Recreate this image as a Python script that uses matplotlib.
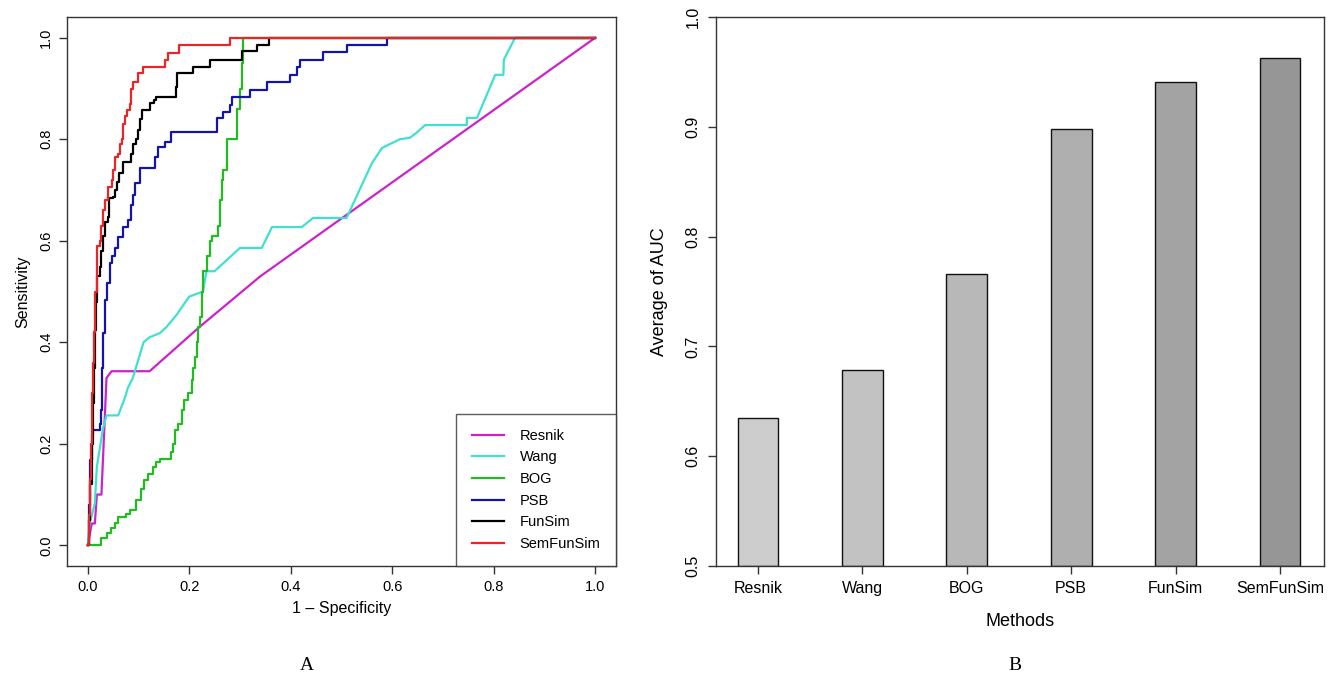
import numpy as np
import matplotlib
matplotlib.use("Agg")
import matplotlib.pyplot as plt

plt.rcParams['font.family'] = ['Liberation Sans', 'DejaVu Sans']

# ---- ROC curves ----
resnik_fpr = [0, 0.008, 0.014, 0.018, 0.027, 0.037, 0.047, 0.122, 0.22, 0.34, 1.0]
resnik_tpr = [0, 0.043, 0.043, 0.10, 0.10, 0.33, 0.343, 0.343, 0.43, 0.53, 1.0]

wang_fpr = [0, 0.004, 0.014, 0.018, 0.03, 0.037, 0.06, 0.073, 0.079, 0.089, 0.11, 0.122,
            0.142, 0.155, 0.175, 0.195, 0.2, 0.227, 0.234, 0.25, 0.30, 0.343, 0.363, 0.422,
            0.444, 0.51, 0.517, 0.56, 0.58, 0.615, 0.635, 0.648, 0.665, 0.747, 0.747, 0.767,
            0.803, 0.819, 0.82, 0.842, 1.0]
wang_tpr = [0, 0.043, 0.083, 0.155, 0.23, 0.256, 0.256, 0.29, 0.31, 0.33, 0.40, 0.41,
            0.418, 0.43, 0.454, 0.483, 0.49, 0.50, 0.54, 0.54, 0.586, 0.586, 0.627, 0.627,
            0.645, 0.645, 0.66, 0.753, 0.783, 0.80, 0.803, 0.813, 0.828, 0.828, 0.842, 0.842,
            0.927, 0.927, 0.957, 1.0, 1.0]

bog_fpr = [0, 0.027, 0.037, 0.045, 0.053, 0.06, 0.075, 0.083, 0.096, 0.104, 0.11, 0.118,
           0.128, 0.135, 0.142, 0.165, 0.168, 0.172, 0.178, 0.185, 0.19, 0.198, 0.205, 0.208,
           0.211, 0.215, 0.217, 0.222, 0.225, 0.228, 0.235, 0.24, 0.245, 0.257, 0.26, 0.264,
           0.267, 0.274, 0.293, 0.295, 0.30, 0.303, 0.305, 1.0]
bog_tpr = [0, 0.014, 0.024, 0.034, 0.043, 0.055, 0.062, 0.069, 0.089, 0.11, 0.128, 0.14,
           0.154, 0.165, 0.17, 0.183, 0.20, 0.227, 0.24, 0.266, 0.286, 0.30, 0.325, 0.35,
           0.371, 0.40, 0.43, 0.45, 0.50, 0.54, 0.57, 0.60, 0.61, 0.63, 0.68, 0.72,
           0.74, 0.80, 0.80, 0.86, 0.90, 0.95, 1.0, 1.0]

psb_fpr = [0, 0.002, 0.004, 0.008, 0.01, 0.024, 0.027, 0.029, 0.03, 0.034, 0.037, 0.043,
           0.048, 0.053, 0.06, 0.069, 0.079, 0.086, 0.09, 0.093, 0.103, 0.132, 0.138, 0.152,
           0.165, 0.254, 0.266, 0.28, 0.284, 0.32, 0.353, 0.398, 0.412, 0.418, 0.464, 0.51,
           0.59, 1.0]
psb_tpr = [0, 0.08, 0.168, 0.22, 0.227, 0.24, 0.266, 0.35, 0.418, 0.483, 0.516, 0.556,
           0.57, 0.585, 0.607, 0.627, 0.64, 0.67, 0.69, 0.714, 0.743, 0.765, 0.785, 0.795,
           0.815, 0.842, 0.854, 0.868, 0.884, 0.897, 0.913, 0.927, 0.943, 0.957, 0.972, 0.986,
           1.0, 1.0]

funsim_fpr = [0, 0.003, 0.005, 0.008, 0.01, 0.012, 0.014, 0.016, 0.018, 0.024, 0.027, 0.03,
              0.034, 0.04, 0.042, 0.05, 0.053, 0.057, 0.062, 0.069, 0.086, 0.09, 0.096, 0.1,
              0.103, 0.106, 0.122, 0.13, 0.135, 0.173, 0.175, 0.207, 0.24, 0.303, 0.333, 0.357, 1.0]
funsim_tpr = [0, 0.05, 0.12, 0.20, 0.28, 0.35, 0.424, 0.48, 0.53, 0.548, 0.58, 0.61,
              0.637, 0.647, 0.684, 0.686, 0.70, 0.716, 0.733, 0.756, 0.77, 0.79, 0.80, 0.818,
              0.84, 0.858, 0.872, 0.877, 0.884, 0.903, 0.93, 0.943, 0.956, 0.973, 0.986, 1.0, 1.0]

semfunsim_fpr = [0, 0.002, 0.004, 0.006, 0.008, 0.01, 0.012, 0.014, 0.018, 0.024, 0.027, 0.03,
                 0.034, 0.04, 0.047, 0.05, 0.053, 0.06, 0.063, 0.067, 0.07, 0.073, 0.078, 0.083,
                 0.086, 0.089, 0.099, 0.109, 0.152, 0.158, 0.18, 0.28, 1.0]
semfunsim_tpr = [0, 0.06, 0.13, 0.20, 0.30, 0.36, 0.42, 0.50, 0.59, 0.60, 0.63, 0.66,
                 0.68, 0.706, 0.72, 0.74, 0.765, 0.77, 0.79, 0.80, 0.83, 0.845, 0.858, 0.87,
                 0.90, 0.913, 0.93, 0.943, 0.956, 0.97, 0.986, 1.0, 1.0]

# ---- mean AUC per method ----
methods = ["Resnik", "Wang", "BOG", "PSB", "FunSim", "SemFunSim"]
auc_mean = [0.635, 0.679, 0.766, 0.898, 0.941, 0.963]
bar_grays = ["#cdcdcd", "#c2c2c2", "#b8b8b8", "#afafaf", "#a3a3a3", "#969696"]

line_colors = ["#cc22cc", "#40e0d0", "#22bb22", "#1414aa", "#000000", "#e8262a"]

fig = plt.figure(figsize=(13.36, 6.78), dpi=100)
spine_col = "#333333"

# ---------- A: ROC ----------
ax1 = fig.add_axes([0.0501, 0.165, 0.411, 0.810])
curves = [(resnik_fpr, resnik_tpr, "default"),
          (wang_fpr, wang_tpr, "default"),
          (bog_fpr, bog_tpr, "steps-post"),
          (psb_fpr, psb_tpr, "steps-post"),
          (funsim_fpr, funsim_tpr, "steps-post"),
          (semfunsim_fpr, semfunsim_tpr, "steps-post")]
for (fx, ty, ds), col, name in zip(curves, line_colors, methods):
    ax1.plot(fx, ty, color=col, lw=1.6, drawstyle=ds, label=name)

ax1.set_xlim(-0.041, 1.041)
ax1.set_ylim(-0.041, 1.041)
ax1.set_xticks(np.arange(0, 1.01, 0.2))
ax1.set_yticks(np.arange(0, 1.01, 0.2))
ax1.set_xticklabels(["%.1f" % v for v in np.arange(0, 1.01, 0.2)])
ax1.set_yticklabels(["%.1f" % v for v in np.arange(0, 1.01, 0.2)],
                    rotation=90, va="center")
ax1.tick_params(direction="out", length=6, width=1, color=spine_col,
                labelsize=10.5, pad=4)
ax1.set_xlabel("1 \u2013 Specificity", fontsize=11.5, labelpad=5)
ax1.set_ylabel("Sensitivity", fontsize=11.5, labelpad=6)
for s in ax1.spines.values():
    s.set_color(spine_col)
    s.set_linewidth(1)
leg = ax1.legend(loc="lower right", borderaxespad=0, fancybox=False,
                 edgecolor=spine_col, fontsize=10.5, handlelength=2.2,
                 handletextpad=1.1, labelspacing=0.52, borderpad=1.05)
leg.get_frame().set_linewidth(1)
for h in leg.get_lines():
    h.set_linewidth(1.6)

# ---------- B: bars ----------
ax2 = fig.add_axes([0.536, 0.165, 0.455, 0.810])
xpos = np.arange(len(methods))
ax2.bar(xpos, [v - 0.5 for v in auc_mean], bottom=0.5, width=0.39,
        color=bar_grays, edgecolor="#111111", linewidth=1)
ax2.set_xlim(-0.40, 5.42)
ax2.set_ylim(0.5, 1.0)
ax2.set_xticks(xpos)
ax2.set_xticklabels(methods)
ax2.set_yticks(np.arange(0.5, 1.01, 0.1))
ax2.set_yticklabels(["%.1f" % v for v in np.arange(0.5, 1.01, 0.1)],
                    rotation=90, va="center")
ax2.tick_params(direction="out", length=6, width=1, color=spine_col,
                labelsize=11.5, pad=5)
ax2.set_xlabel("Methods", fontsize=13, labelpad=12)
ax2.set_ylabel("Average of AUC", fontsize=13, labelpad=13)
for s in ax2.spines.values():
    s.set_color(spine_col)
    s.set_linewidth(1)

fig.text(0.23, 0.012, "A", fontsize=14, family="Liberation Serif", ha="center")
fig.text(0.76, 0.012, "B", fontsize=14, family="Liberation Serif", ha="center")

fig.savefig("out.png", dpi=100, facecolor="white")
